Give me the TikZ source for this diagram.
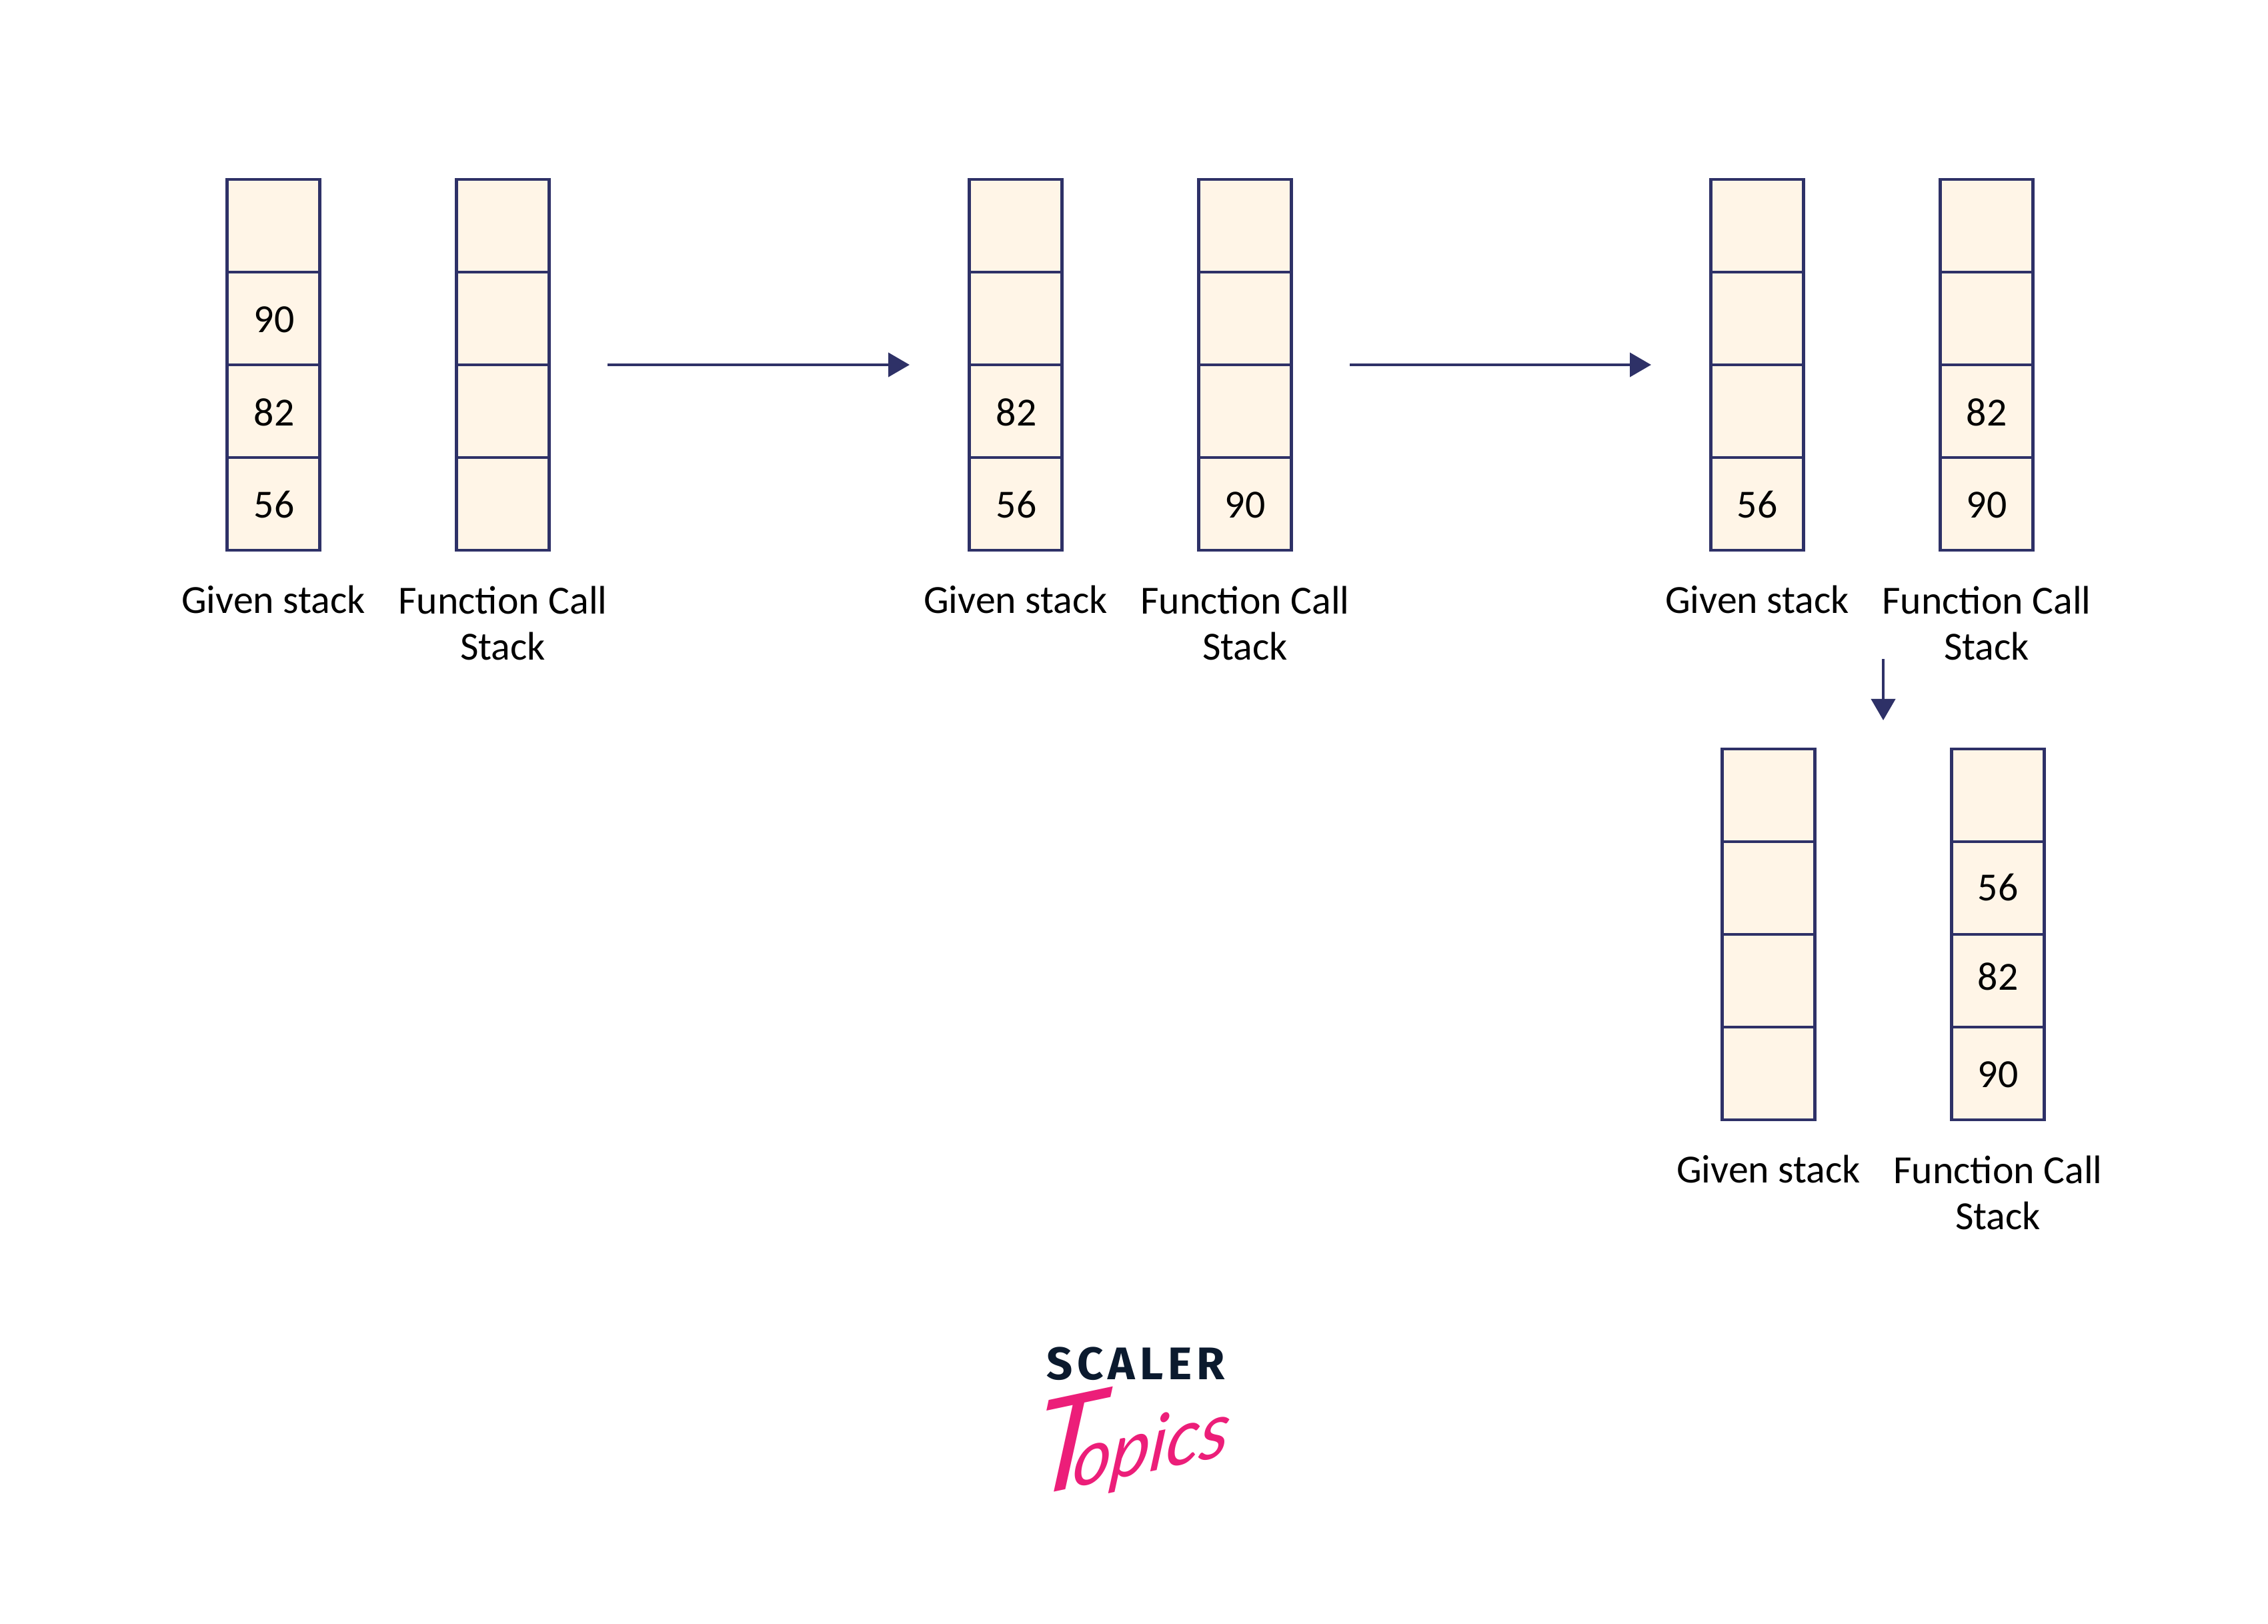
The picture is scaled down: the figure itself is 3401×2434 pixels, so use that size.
\documentclass[tikz,border=0pt]{standalone}
\usepackage{fontspec}
\setmainfont{Carlito}
\newfontfamily\logofont[LetterSpace=10]{Fira Sans}
\newfontfamily\topicsfont{Lato}
\usepackage{xcolor}
\usetikzlibrary{arrows.meta}
\definecolor{stackline}{HTML}{2E3167}
\definecolor{stackfill}{HTML}{FFF5E7}
\definecolor{logodark}{HTML}{0B1A2E}
\definecolor{logopink}{HTML}{EC1E79}
\tikzset{
    cell/.style={draw=stackline, fill=stackfill, line width=1.35pt, minimum size=1.39cm, inner sep=0pt, outer sep=0pt},
    num/.style={inner sep=0pt, font=\fontsize{17pt}{20pt}\selectfont},
    lbl/.style={inner sep=0pt, align=center, font=\fontsize{17pt}{19.6pt}\selectfont},
    arrowln/.style={draw=stackline, line width=1.2pt, -{Triangle[length=0.32cm, width=0.36cm]}}
}

\begin{document}
\begin{tikzpicture}[x=0.01cm, y=-0.01cm]
    \useasboundingbox (0, 0) rectangle (3401, 2434);

    % first pair
    \foreach \i in {1,...,4} {
        \node[cell] (ga\i) at (410, {199.5+139*\i}) {};
        \node[cell] (fa\i) at (754, {199.5+139*\i}) {};
    }
    \node[num] (na1) at (411, 479) {90};
    \node[num] (na2) at (411, 618) {82};
    \node[num] (na3) at (411, 757) {56};
    \node[lbl] (gal) at (410, 899) {Given stack};
    \node[lbl] (fal) at (754, 934) {Function Call\\Stack};

    % second pair
    \begin{scope}[shift={(1113, 0)}]
        \foreach \i in {1,...,4} {
            \node[cell] (gb\i) at (410, {199.5+139*\i}) {};
            \node[cell] (fb\i) at (754, {199.5+139*\i}) {};
        }
        \node[num] (nb1) at (411, 618) {82};
        \node[num] (nb2) at (411, 757) {56};
        \node[num] (nb3) at (754, 757) {90};
        \node[lbl] (gbl) at (410, 899) {Given stack};
        \node[lbl] (fbl) at (754, 934) {Function Call\\Stack};
    \end{scope}

    % third pair
    \begin{scope}[shift={(2225, 0)}]
        \foreach \i in {1,...,4} {
            \node[cell] (gc\i) at (410, {199.5+139*\i}) {};
            \node[cell] (fc\i) at (754, {199.5+139*\i}) {};
        }
        \node[num] (nc1) at (410, 757) {56};
        \node[num] (nc2) at (754, 618) {82};
        \node[num] (nc3) at (754, 757) {90};
        \node[lbl] (gcl) at (410, 899) {Given stack};
        \node[lbl] (fcl) at (754, 934) {Function Call\\Stack};
    \end{scope}

    % fourth pair
    \begin{scope}[shift={(2242, 854)}]
        \foreach \i in {1,...,4} {
            \node[cell] (gd\i) at (410, {199.5+139*\i}) {};
            \node[cell] (fd\i) at (754, {199.5+139*\i}) {};
        }
        \node[num] (nd1) at (754, 477) {56};
        \node[num] (nd2) at (754, 610) {82};
        \node[num] (nd3) at (754, 757) {90};
        \node[lbl] (gdl) at (410, 899) {Given stack};
        \node[lbl] (fdl) at (754, 934) {Function Call\\Stack};
    \end{scope}

    \coordinate (s1) at (911, 547);
    \coordinate (e1) at (1364, 547);
    \coordinate (s2) at (2024, 547);
    \coordinate (e2) at (2476, 547);
    \coordinate (s3) at (2824, 988);
    \coordinate (e3) at (2824, 1080);
    \draw[arrowln] (s1) -- (e1);
    \draw[arrowln] (s2) -- (e2);
    \draw[arrowln] (s3) -- (e3);

    % logo
    \node[anchor=base, inner sep=0pt, text=logodark, font=\logofont\bfseries\fontsize{19.5pt}{22pt}\selectfont] (scaler) at (1703, 2068) {SCALER};
    \node[anchor=center, inner sep=0pt, transform shape, rotate=12, xslant=0.33, text=logopink, font=\topicsfont\itshape\fontsize{32pt}{36pt}\selectfont] (topics) at (1700, 2152) {{\fontsize{54pt}{58pt}\selectfont T}\kern-12pt opics};
\end{tikzpicture}
\end{document}
